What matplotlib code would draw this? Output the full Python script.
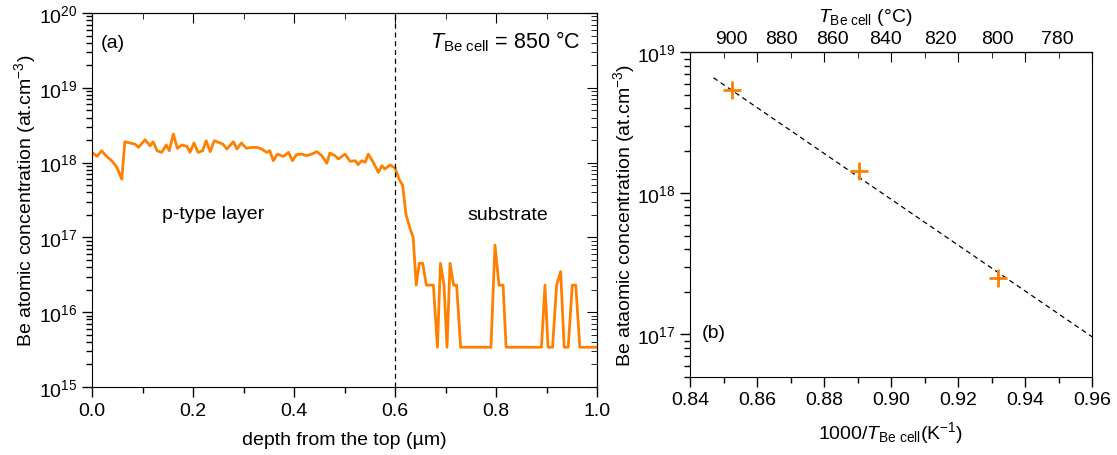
import numpy as np
import matplotlib
matplotlib.use('Agg')
import matplotlib.pyplot as plt
from matplotlib.ticker import LogLocator, MultipleLocator, NullFormatter

plt.rcParams['font.family'] = ['Liberation Sans', 'DejaVu Sans']
plt.rcParams['mathtext.fontset'] = 'custom'
plt.rcParams['mathtext.rm'] = 'Liberation Sans'
plt.rcParams['mathtext.it'] = 'Liberation Sans:italic'
plt.rcParams['mathtext.default'] = 'regular'

ORANGE = '#ff8000'

# (a) SIMS depth profile, depth in um, Be concentration in at/cm3
depth = [0.000, 0.010, 0.019, 0.029, 0.039, 0.049, 0.059, 0.065, 0.075, 0.085,
         0.092, 0.105, 0.115, 0.121, 0.129, 0.138, 0.147, 0.153, 0.161, 0.169,
         0.178, 0.188, 0.194, 0.202, 0.210, 0.219, 0.226, 0.234, 0.242, 0.250,
         0.259, 0.267, 0.280, 0.287, 0.296, 0.306, 0.316, 0.326, 0.336, 0.346,
         0.352, 0.359, 0.367, 0.379, 0.389, 0.397, 0.405, 0.415, 0.425, 0.435,
         0.445, 0.455, 0.465, 0.471, 0.481, 0.488, 0.501, 0.511, 0.521, 0.527,
         0.534, 0.541, 0.547, 0.557, 0.567, 0.574, 0.580, 0.590, 0.600, 0.608,
         0.615, 0.622, 0.630, 0.636, 0.642, 0.648, 0.655, 0.662, 0.668, 0.676,
         0.684, 0.690, 0.697, 0.703, 0.709, 0.716, 0.722, 0.730, 0.738, 0.790,
         0.798, 0.806, 0.814, 0.820, 0.890, 0.897, 0.903, 0.912, 0.920, 0.928,
         0.935, 0.943, 0.951, 0.958, 0.966, 1.000]
conc = [1.37e18, 1.21e18, 1.44e18, 1.21e18, 1.06e18, 8.7e17, 6.0e17, 1.90e18, 1.83e18, 1.77e18,
        1.60e18, 2.02e18, 1.68e18, 1.90e18, 1.44e18, 1.37e18, 1.72e18, 1.44e18, 2.41e18, 1.55e18,
        1.72e18, 1.65e18, 1.37e18, 1.83e18, 1.37e18, 1.44e18, 1.96e18, 1.40e18, 1.96e18, 1.87e18,
        1.77e18, 1.52e18, 1.90e18, 1.52e18, 1.83e18, 1.55e18, 1.60e18, 1.60e18, 1.52e18, 1.37e18,
        1.44e18, 1.06e18, 1.30e18, 1.21e18, 1.37e18, 1.06e18, 1.28e18, 1.30e18, 1.24e18, 1.30e18,
        1.40e18, 1.24e18, 9.8e17, 1.34e18, 1.24e18, 1.12e18, 1.30e18, 1.04e18, 1.06e18, 9.4e17,
        1.06e18, 1.01e18, 1.30e18, 1.01e18, 7.4e17, 9.1e17, 8.2e17, 9.3e17, 8.5e17, 6.0e17,
        5.0e17, 2.0e17, 1.3e17, 1.0e17, 2.3e16, 4.5e16, 4.5e16, 2.3e16, 2.3e16, 2.3e16,
        3.4e15, 4.5e16, 2.3e16, 3.4e15, 4.5e16, 2.3e16, 2.3e16, 3.4e15, 3.4e15, 3.4e15,
        7.9e16, 2.3e16, 2.3e16, 3.4e15, 3.4e15, 2.3e16, 3.4e15, 3.4e15, 2.3e16, 3.5e16,
        3.4e15, 3.4e15, 2.3e16, 2.3e16, 3.4e15, 3.4e15]

# (b) Be concentration vs 1000/T of the Be cell (cells at 900, 850, 800 C)
inv_t = [0.8524, 0.8904, 0.9318]
be_conc = [5.4e18, 1.43e18, 2.5e17]
fit_x = [0.847, 0.960]
fit_y = [6.6e18, 9.6e16]

top_temps = [900, 880, 860, 840, 820, 800, 780]


def c_from_inv(x):
    x = np.asarray(x, dtype=float)
    with np.errstate(divide='ignore', invalid='ignore'):
        return 1000.0 / x - 273.15


def inv_from_c(t):
    t = np.asarray(t, dtype=float)
    with np.errstate(divide='ignore', invalid='ignore'):
        return 1000.0 / (t + 273.15)


def ident(v):
    return v


TBE = r'$\mathit{T}_{\rm Be\ cell}$'

fig = plt.figure(figsize=(11.17, 4.56), dpi=100)
FS = 14

# ---------------- panel (a) ----------------
ax1 = fig.add_axes([92 / 1117, 68 / 456, 505 / 1117, 374 / 456])
ax1.plot(depth, conc, color=ORANGE, lw=2)
ax1.axvline(0.6, color='k', ls=(0, (4, 3)), lw=0.9)
ax1.set_yscale('log')
ax1.set_xlim(0, 1)
ax1.set_ylim(1e15, 1e20)
ax1.xaxis.set_major_locator(MultipleLocator(0.2))
ax1.xaxis.set_minor_locator(MultipleLocator(0.1))
ax1.xaxis.set_major_formatter(matplotlib.ticker.FormatStrFormatter('%.1f'))
ax1.yaxis.set_major_locator(LogLocator(base=10, numticks=10))
ax1.yaxis.set_minor_locator(LogLocator(base=10, subs=np.arange(2, 10), numticks=20))
ax1.yaxis.set_minor_formatter(NullFormatter())
ax1.tick_params(which='major', direction='out', length=7, width=1, labelsize=FS)
ax1.tick_params(which='minor', direction='out', length=4, width=1)
ax1.set_xlabel('depth from the top (µm)', fontsize=FS, labelpad=9)
ax1.set_ylabel('Be atomic concentration (at.cm$^{-3}$)', fontsize=FS, labelpad=1)

top1 = ax1.secondary_xaxis('top', functions=(ident, ident))
top1.xaxis.set_major_locator(MultipleLocator(0.2))
top1.xaxis.set_minor_locator(MultipleLocator(0.1))
top1.tick_params(which='both', direction='in', labeltop=False)
top1.tick_params(which='major', length=7)
top1.tick_params(which='minor', length=4)
right1 = ax1.secondary_yaxis('right', functions=(ident, ident))
right1.yaxis.set_major_locator(LogLocator(base=10, numticks=10))
right1.yaxis.set_minor_locator(LogLocator(base=10, subs=np.arange(2, 10), numticks=20))
right1.tick_params(which='both', direction='in', labelright=False)
right1.tick_params(which='major', length=7)
right1.tick_params(which='minor', length=4)

ax1.text(0.017, 0.92, '(a)', transform=ax1.transAxes, fontsize=FS, va='center')
ax1.text(0.968, 0.925, TBE + ' = 850 °C', transform=ax1.transAxes,
         fontsize=FS + 1.5, va='center', ha='right')
ax1.text(0.24, 0.465, 'p-type layer', transform=ax1.transAxes, fontsize=FS, ha='center', va='center')
ax1.text(0.823, 0.46, 'substrate', transform=ax1.transAxes, fontsize=FS, ha='center', va='center')

# ---------------- panel (b) ----------------
ax2 = fig.add_axes([690 / 1117, 78.3 / 456, 402 / 1117, 324.4 / 456])
ax2.plot(fit_x, fit_y, color='k', ls=(0, (4, 3)), lw=0.9)
ax2.plot(inv_t, be_conc, ls='none', marker='+', ms=13, mew=2, color=ORANGE)
ax2.set_yscale('log')
ax2.set_xlim(0.84, 0.96)
ax2.set_ylim(5e16, 1e19)
ax2.xaxis.set_major_locator(MultipleLocator(0.02))
ax2.xaxis.set_minor_locator(MultipleLocator(0.01))
ax2.xaxis.set_major_formatter(matplotlib.ticker.FormatStrFormatter('%.2f'))
ax2.yaxis.set_major_locator(LogLocator(base=10, numticks=10))
ax2.yaxis.set_minor_locator(LogLocator(base=10, subs=np.arange(2, 10), numticks=20))
ax2.yaxis.set_minor_formatter(NullFormatter())
ax2.tick_params(which='major', direction='out', length=7, width=1, labelsize=FS)
ax2.tick_params(which='minor', direction='out', length=4, width=1)
ax2.set_xlabel('1000/' + TBE + '(K$^{-1}$)', fontsize=FS, labelpad=8)
ax2.set_ylabel('Be ataomic concentration (at.cm$^{-3}$)', fontsize=FS, labelpad=0)

top2 = ax2.secondary_xaxis('top', functions=(ident, ident))
top2.xaxis.set_major_locator(MultipleLocator(0.02))
top2.xaxis.set_minor_locator(MultipleLocator(0.01))
top2.tick_params(which='both', direction='in', labeltop=False)
top2.tick_params(which='major', length=7)
top2.tick_params(which='minor', length=4)

temp_ax = ax2.secondary_xaxis('top', functions=(c_from_inv, inv_from_c))
temp_ax.set_xticks(top_temps)
temp_ax.xaxis.set_minor_locator(matplotlib.ticker.NullLocator())
temp_ax.tick_params(length=0, labelsize=FS, pad=4)
temp_ax.set_xlabel(TBE + ' (°C)', fontsize=FS)
temp_ax.xaxis.set_label_coords(0.435, 1.098, transform=ax2.transAxes)

ax2.text(0.03, 0.135, '(b)', transform=ax2.transAxes, fontsize=FS, va='center')

fig.savefig('out.png', dpi=100)
